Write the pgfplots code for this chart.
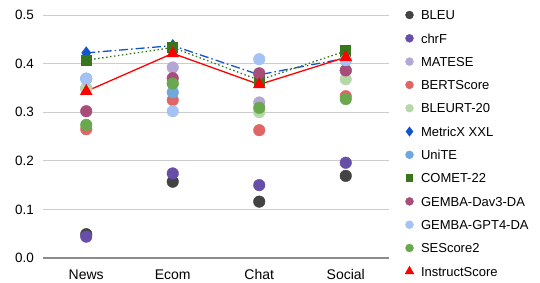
\documentclass[border=0pt]{standalone}
\usepackage{pgfplots}
\pgfplotsset{compat=1.18}
\usepackage{fontspec}
\setmainfont{Liberation Sans}
\definecolor{cBLEU}{HTML}{434343}
\definecolor{cchrF}{HTML}{674EA7}
\definecolor{cMATESE}{HTML}{B4A7D6}
\definecolor{cBERT}{HTML}{E06666}
\definecolor{cBLEURT}{HTML}{B6D7A8}
\definecolor{cMetricX}{HTML}{1155CC}
\definecolor{cUniTE}{HTML}{6FA8DC}
\definecolor{cCOMET}{HTML}{38761D}
\definecolor{cDav}{HTML}{A64D79}
\definecolor{cGPT}{HTML}{A4C2F4}
\definecolor{cSE}{HTML}{6AA84F}
\definecolor{cInst}{HTML}{FF0000}
\pgfplotsset{
  legsize/.style={legend image code/.code={\draw[##1,mark size=#1] plot[only marks] coordinates {(0pt,0pt)};}},
}
\begin{document}
\begin{tikzpicture}
\path[use as bounding box] (-43pt,-24pt) rectangle (497pt,258pt);
\begin{axis}[
  scale only axis, width=346pt, height=243pt,
  xmin=-0.5, xmax=3.5, ymin=0, ymax=0.5,
  clip=false,
  axis line style={draw=none},
  xtick={0,1,2,3}, xticklabels={News,Ecom,Chat,Social},
  ytick={0,0.1,0.2,0.3,0.4,0.5},
  tick style={draw=none},
  ymajorgrids, grid style={draw=black!20, line width=0.8pt},
  extra y ticks={0}, extra y tick labels={},
  extra y tick style={grid style={draw=black!45, line width=1.4pt}},
  /pgf/number format/assume math mode=true,
  yticklabel style={/pgf/number format/.cd, fixed, fixed zerofill, precision=1, /tikz/.cd,
    font=\fontsize{13.5}{14}\selectfont, anchor=east, inner sep=0pt, xshift=-9pt},
  xticklabel style={font=\fontsize{14}{15}\selectfont, anchor=base, inner sep=0pt, yshift=-21.5pt},
  legsize=4pt,
  legend cell align=left,
  legend style={at={(rel axis cs:1,1)}, anchor=north west, xshift=16.5pt, yshift=4.75pt,
    draw=none, fill=none, inner sep=0pt, outer sep=0pt, column sep=7.5pt, row sep=13.8pt,
    font=\fontsize{13}{14}\selectfont,
    nodes={inner sep=0pt, text height=9.5pt, text depth=0pt}},
]
\addplot[only marks, mark=*, mark size=5.8pt, cBLEU] coordinates {(0,0.049) (1,0.157) (2,0.116) (3,0.169)};
\addlegendentry{BLEU}
\addplot[only marks, mark=*, mark size=5.8pt, cchrF] coordinates {(0,0.044) (1,0.174) (2,0.150) (3,0.196)};
\addlegendentry{chrF}
\addplot[only marks, mark=*, mark size=5.8pt, cMATESE] coordinates {(0,0.349) (1,0.392) (2,0.320) (3,0.386)};
\addlegendentry{MATESE}
\addplot[only marks, mark=*, mark size=5.8pt, cBERT] coordinates {(0,0.265) (1,0.325) (2,0.263) (3,0.333)};
\addlegendentry{BERTScore}
\addplot[only marks, mark=*, mark size=5.8pt, cBLEURT] coordinates {(0,0.349) (1,0.359) (2,0.300) (3,0.368)};
\addlegendentry{BLEURT-20}
\addplot[cMetricX, line width=1.3pt, dash pattern=on 9pt off 3pt on 1.5pt off 3pt, mark=diamond*, mark size=5.5pt, mark options={solid},
  legsize=4pt] coordinates {(0,0.422) (1,0.437) (2,0.377) (3,0.411)};
\addlegendentry{MetricX XXL}
\addplot[only marks, mark=*, mark size=5.8pt, cUniTE] coordinates {(0,0.369) (1,0.341) (2,0.378) (3,0.407)};
\addlegendentry{UniTE}
\addplot[cCOMET, line width=1.3pt, dash pattern=on 1.5pt off 2.5pt, mark=square*, mark size=5pt, mark options={solid},
  legsize=3.3pt] coordinates {(0,0.407) (1,0.433) (2,0.366) (3,0.426)};
\addlegendentry{COMET-22}
\addplot[only marks, mark=*, mark size=5.8pt, cDav] coordinates {(0,0.302) (1,0.370) (2,0.380) (3,0.386)};
\addlegendentry{GEMBA-Dav3-DA}
\addplot[only marks, mark=*, mark size=5.8pt, cGPT] coordinates {(0,0.369) (1,0.302) (2,0.409) (3,0.407)};
\addlegendentry{GEMBA-GPT4-DA}
\addplot[only marks, mark=*, mark size=5.8pt, cSE] coordinates {(0,0.274) (1,0.359) (2,0.309) (3,0.327)};
\addlegendentry{SEScore2}
\addplot[cInst, line width=1.3pt, mark=triangle*, mark size=6pt, mark options={solid},
  legsize=4.2pt] coordinates {(0,0.343) (1,0.421) (2,0.357) (3,0.413)};
\addlegendentry{InstructScore}
\end{axis}
\end{tikzpicture}
\end{document}
